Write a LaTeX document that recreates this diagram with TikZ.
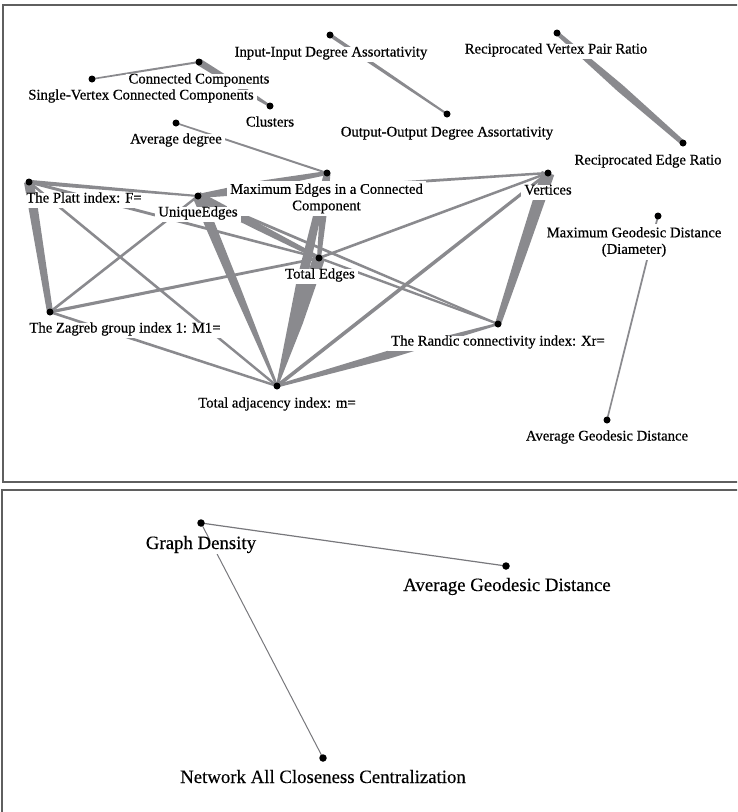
\documentclass[tikz,border=0pt]{standalone}
\usepackage{fontspec}
\setmainfont{Liberation Serif}
\newfontfamily\heavyfont{Liberation Serif}[FakeBold=0.5]
\newfontfamily\midfont{Liberation Serif}[FakeBold=0.3]
\usetikzlibrary{calc}
\definecolor{edgecol}{RGB}{138,138,142}
\definecolor{framecol}{RGB}{95,95,95}
\definecolor{thincol}{RGB}{120,120,124}
% tapered band between two named points: a, b, half-width at a, at middle, at b
\newcommand\edgeband[5]{%
  \coordinate (bandmid) at ($(#1)!0.5!(#2)$);
  \fill[edgecol] ($(#1)!#3!90:(#2)$)
    -- ($(bandmid)!#4!90:(#2)$)
    -- ($(#2)!#5!-90:(#1)$)
    -- ($(#2)!#5!90:(#1)$)
    -- ($(bandmid)!#4!-90:(#2)$)
    -- ($(#1)!#3!-90:(#2)$) -- cycle;}
\begin{document}
\begin{tikzpicture}[x=1pt,y=-1pt,
  dot/.style={circle,fill=black,inner sep=0pt,minimum size=7pt},
  bigdot/.style={circle,fill=black,inner sep=0pt,minimum size=7.5pt},
  lab/.style={font=\heavyfont\fontsize{14.7}{17}\selectfont,fill=white,inner sep=3pt,text height=0.7em,text depth=0.2em,yshift=-3pt},
  labtwo/.style={font=\heavyfont\fontsize{14.7}{16.5}\selectfont,fill=white,inner sep=3pt,align=center,yshift=-2pt},
  labbig/.style={font=\midfont\fontsize{18.8}{22}\selectfont,fill=white,inner sep=3pt,text height=0.7em,text depth=0.2em,yshift=-3.5pt},
  frame/.style={draw=framecol,line width=1.6pt},
  thinedge/.style={draw=thincol,line width=1.2pt}]
\useasboundingbox (0,0) rectangle (737,812);
\clip (0,0) rectangle (737,812);
% ---- vertex positions (top panel)
\coordinate (ii) at (330,35);
\coordinate (oo) at (447,114);
\coordinate (rvp) at (557,33);
\coordinate (rer) at (683,143);
\coordinate (cc) at (199,62);
\coordinate (sv) at (92,79);
\coordinate (cl) at (270,106);
\coordinate (ad) at (176,123);
\coordinate (mx) at (327,173);
\coordinate (pl) at (29,182);
\coordinate (ue) at (198,196);
\coordinate (vt) at (548,173);
\coordinate (mg) at (658,216);
\coordinate (te) at (319,258);
\coordinate (zg) at (50,312);
\coordinate (rd) at (498,324);
\coordinate (ta) at (277,386);
\coordinate (ag) at (607,420);
% ---- vertex positions (bottom panel)
\coordinate (gd) at (201,523);
\coordinate (agd) at (506,566);
\coordinate (nc) at (323,758);
% ---- frames
\draw[frame] (3,5) rectangle (745,482);
\draw[frame] (2,490) rectangle (745,830);
% ---- edges
\edgeband{ii}{oo}{1.8pt}{1.6pt}{1.0pt}
\edgeband{rvp}{rer}{2.0pt}{4.0pt}{2.5pt}
\edgeband{cc}{sv}{1.0pt}{1.0pt}{0.8pt}
\edgeband{cc}{cl}{3.5pt}{3.0pt}{1.2pt}
\edgeband{ad}{mx}{0.8pt}{1.0pt}{1.0pt}
\edgeband{mx}{ue}{2.0pt}{4.0pt}{2.0pt}
\edgeband{mx}{te}{3.5pt}{3.5pt}{2.0pt}
\edgeband{mx}{ta}{3.0pt}{5.0pt}{1.0pt}
\edgeband{te}{ta}{6.0pt}{5.0pt}{1.0pt}
\edgeband{ue}{ta}{5.5pt}{4.0pt}{1.2pt}
\edgeband{ue}{te}{4.5pt}{3.5pt}{2.0pt}
\edgeband{ue}{rd}{1.5pt}{1.3pt}{1.0pt}
\edgeband{te}{rd}{1.2pt}{1.2pt}{1.0pt}
\edgeband{pl}{ue}{2.2pt}{1.6pt}{1.0pt}
\edgeband{pl}{te}{1.5pt}{1.4pt}{1.2pt}
\edgeband{pl}{zg}{5.0pt}{4.0pt}{3.0pt}
\edgeband{pl}{ta}{1.3pt}{1.3pt}{1.2pt}
\edgeband{zg}{ue}{1.3pt}{1.3pt}{1.2pt}
\edgeband{zg}{te}{1.6pt}{1.5pt}{1.3pt}
\edgeband{zg}{ta}{1.3pt}{1.3pt}{1.2pt}
\edgeband{te}{vt}{1.3pt}{1.3pt}{1.2pt}
\edgeband{ta}{vt}{1.8pt}{1.8pt}{1.5pt}
\edgeband{ta}{rd}{1.5pt}{4.0pt}{1.2pt}
\edgeband{vt}{rd}{6.5pt}{5.0pt}{3.0pt}
\edgeband{ue}{vt}{2.0pt}{1.5pt}{1.2pt}
\edgeband{mg}{ag}{0.9pt}{0.9pt}{0.8pt}
\draw[thinedge] (gd) -- (agd);
\draw[thinedge,line width=1pt] (gd) -- (nc);
% ---- labels (white background hides the edges behind them)
\node[lab] (iiL) at (331,51) {Input-Input Degree Assortativity};
\node[lab] (ooL) at (447,131) {Output-Output Degree Assortativity};
\node[lab] (rvpL) at (556,48) {Reciprocated Vertex Pair Ratio};
\node[lab] (rerL) at (648,159) {Reciprocated Edge Ratio};
\node[lab] (ccL) at (199,78) {Connected Components};
\node[lab] (svL) at (141,94) {Single-Vertex Connected Components};
\node[lab] (clL) at (270,121) {Clusters};
\node[lab] (adL) at (176,138) {Average degree};
\node[labtwo] (mxL) at (326.5,196.5) {Maximum Edges in a Connected\\Component};
\node[lab] (plL) at (84,197) {The Platt index: F=};
\node[lab] (ueL) at (198,211) {UniqueEdges};
\node[lab] (vtL) at (548,189) {Vertices};
\node[labtwo] (mgL) at (634,240) {Maximum Geodesic Distance\\(Diameter)};
\node[lab] (teL) at (320,273) {Total Edges};
\node[lab] (zgL) at (125,327) {The Zagreb group index 1: M1=};
\node[lab] (rdL) at (498,340) {The Randic connectivity index: Xr=};
\node[lab] (taL) at (277,402) {Total adjacency index: m=};
\node[lab] (agL) at (607,435) {Average Geodesic Distance};
\node[labbig] (gdL) at (201,543) {Graph Density};
\node[labbig] (agdL) at (507,585) {Average Geodesic Distance};
\node[labbig] (ncL) at (323,777) {Network All Closeness Centralization};
% ---- vertex dots on top
\node[dot] (iiD) at (ii) {};
\node[dot] (ooD) at (oo) {};
\node[dot] (rvpD) at (rvp) {};
\node[dot] (rerD) at (rer) {};
\node[dot] (ccD) at (cc) {};
\node[dot] (svD) at (sv) {};
\node[dot] (clD) at (cl) {};
\node[dot] (adD) at (ad) {};
\node[dot] (mxD) at (mx) {};
\node[dot] (plD) at (pl) {};
\node[dot] (ueD) at (ue) {};
\node[dot] (vtD) at (vt) {};
\node[dot] (mgD) at (mg) {};
\node[dot] (teD) at (te) {};
\node[dot] (zgD) at (zg) {};
\node[dot] (rdD) at (rd) {};
\node[dot] (taD) at (ta) {};
\node[dot] (agD) at (ag) {};
\node[bigdot] (gdD) at (gd) {};
\node[bigdot] (agdD) at (agd) {};
\node[bigdot] (ncD) at (nc) {};
\end{tikzpicture}
\end{document}
